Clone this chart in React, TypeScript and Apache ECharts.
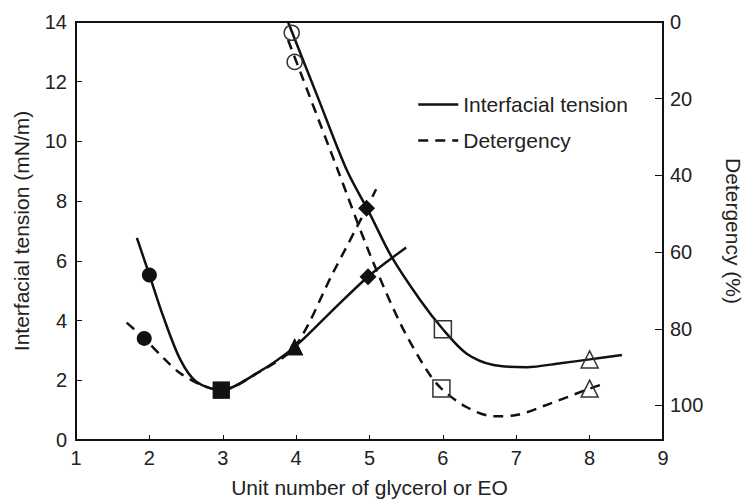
import React, { useEffect, useRef } from 'react';
import * as echarts from 'echarts';

// ---- data ----
const xTicks = [1, 2, 3, 4, 5, 6, 7, 8, 9];
const leftTicks = [0, 2, 4, 6, 8, 10, 12, 14];
const rightTicks = [0, 20, 40, 60, 80, 100];

// glycerol series: interfacial tension curve (left axis)
const glyIftCurve: number[][] = [
  [1.83, 6.77], [2.0, 5.53], [2.19, 4.13], [2.42, 2.7], [2.64, 1.95], [2.98, 1.67],
  [3.46, 2.23], [3.98, 3.12], [4.5, 4.35], [4.98, 5.47], [5.5, 6.45],
];
// glycerol series: detergency curve (right axis, %)
const glyDetCurve: number[][] = [
  [1.69, 78.4], [1.93, 82.5], [2.2, 87.8], [2.42, 91.6], [2.7, 94.6], [2.98, 96.0],
  [3.46, 91.7], [3.98, 84.7], [4.5, 65.5], [4.96, 48.6], [5.09, 43.6],
];
// EO series: interfacial tension curve (left axis)
const eoIftCurve: number[][] = [
  [3.89, 14.0], [4.3, 11.45], [4.69, 9.04], [5.0, 7.6], [5.3, 6.14], [5.69, 4.69],
  [6.0, 3.71], [6.32, 2.9], [6.69, 2.51], [7.14, 2.44], [7.6, 2.57], [8.0, 2.7], [8.44, 2.85],
];
// EO series: detergency curve (right axis, %)
const eoDetCurve: number[][] = [
  [3.89, 4.7], [4.55, 37.7], [5.0, 60.3], [5.42, 78.6], [5.78, 90.8], [5.98, 95.6],
  [6.32, 100.4], [6.69, 102.8], [7.0, 102.5], [7.46, 99.5], [8.0, 95.6], [8.14, 94.7],
];

// measured points
const glyIftPoints: number[][] = [[2.0, 5.53], [2.98, 1.67], [3.98, 3.12], [4.98, 5.47]];
const glyDetPoints: number[][] = [[1.93, 82.5], [2.98, 96.0], [3.98, 84.7], [4.96, 48.6]];
const eoIftPoints: number[][] = [[3.94, 13.64], [6.0, 3.71], [8.0, 2.7]];
const eoDetPoints: number[][] = [[3.98, 10.4], [5.98, 95.6], [8.0, 95.6]];

const legendNames = ['Interfacial tension', 'Detergency'];
const xTitle = 'Unit number of glycerol or EO';
const leftTitle = 'Interfacial tension (mN/m)';
const rightTitle = 'Detergency (%)';

// ---- styles ----
const FONT = '"Liberation Sans", Arial, Helvetica, sans-serif';
const INK = '#111';
const TXT = '#222';
const glySymbols = ['circle', 'rect', 'triangle', 'diamond'];
const glySizes = [15, 17, 17, 17];
const eoSymbols = ['circle', 'rect', 'triangle'];
const eoSizes = [15, 17, 17];

export default function App() {
  const ref = useRef<HTMLDivElement>(null);
  useEffect(() => {
    const chart = echarts.init(ref.current!, null, { renderer: 'svg' });
    const solid = { color: INK, width: 2.5, type: 'solid' as const };
    const dashed = { color: INK, width: 2.5, type: [10, 7] as any };
    const filledMarkers = (data: number[][], yAxisIndex: number) => ({
      type: 'scatter',
      yAxisIndex,
      data,
      symbol: (_v: any, p: any) => glySymbols[p.dataIndex],
      symbolSize: (_v: any, p: any) => glySizes[p.dataIndex],
      itemStyle: { color: INK, opacity: 1 },
      z: 5,
    });
    const openMarkers = (data: number[][], yAxisIndex: number) => ({
      type: 'scatter',
      yAxisIndex,
      data,
      symbol: (_v: any, p: any) => eoSymbols[p.dataIndex],
      symbolSize: (_v: any, p: any) => eoSizes[p.dataIndex],
      itemStyle: { color: 'rgba(0,0,0,0)', borderColor: '#333', borderWidth: 1.5, opacity: 1 },
      z: 5,
    });
    chart.setOption({
      animation: false,
      backgroundColor: '#fff',
      textStyle: { fontFamily: FONT },
      grid: {
        left: 76, right: 82, top: 22, bottom: 59,
        containLabel: false, outerBoundsMode: 'none',
        show: true, borderColor: INK, borderWidth: 2, backgroundColor: 'transparent',
      },
      legend: {
        orient: 'vertical', left: 412, top: 89, itemWidth: 40, itemHeight: 14, itemGap: 15,
        data: legendNames, selectedMode: false,
        itemStyle: { opacity: 0 },
        lineStyle: { width: 2.5 },
        textStyle: { fontSize: 21, color: TXT, fontFamily: FONT },
      },
      xAxis: {
        type: 'value', min: 1, max: 9, interval: 1,
        name: xTitle, nameLocation: 'middle', nameGap: 37,
        nameTextStyle: { fontSize: 21, color: TXT, fontFamily: FONT },
        axisLine: { lineStyle: { color: INK, width: 2 } },
        axisTick: { inside: true, length: 5, lineStyle: { color: INK }, customValues: xTicks },
        axisLabel: { fontSize: 20, color: TXT, margin: 8, fontFamily: FONT, customValues: xTicks },
        splitLine: { show: false },
      },
      yAxis: [
        {
          type: 'value', min: 0, max: 14, interval: 2, position: 'left',
          name: leftTitle, nameLocation: 'middle', nameGap: 44,
          nameTextStyle: { fontSize: 21, color: TXT, fontFamily: FONT },
          axisLine: { show: true, lineStyle: { color: INK, width: 2 } },
          axisTick: { inside: true, length: 6, lineStyle: { color: INK }, customValues: leftTicks },
          axisLabel: { fontSize: 20, color: TXT, margin: 9, fontFamily: FONT, customValues: leftTicks },
          splitLine: { show: false },
        },
        {
          type: 'value', min: 0, max: 109, inverse: true, position: 'right',
          name: rightTitle, nameLocation: 'middle', nameGap: 60, nameRotate: -90,
          nameTextStyle: { fontSize: 21, color: TXT, fontFamily: FONT },
          axisLine: { show: true, lineStyle: { color: INK, width: 2 } },
          axisTick: { inside: true, length: 8, lineStyle: { color: INK }, customValues: rightTicks },
          axisLabel: { fontSize: 20, color: TXT, margin: 7, fontFamily: FONT, customValues: rightTicks },
          splitLine: { show: false },
        },
      ],
      series: [
        { type: 'line', name: legendNames[0], yAxisIndex: 0, data: glyIftCurve, smooth: 0.3, symbol: 'none', lineStyle: solid, itemStyle: { color: INK } },
        { type: 'line', name: legendNames[1], yAxisIndex: 1, data: glyDetCurve, smooth: 0.3, symbol: 'none', lineStyle: dashed, itemStyle: { color: INK } },
        { type: 'line', name: legendNames[0], yAxisIndex: 0, data: eoIftCurve, smooth: 0.3, symbol: 'none', lineStyle: solid, itemStyle: { color: INK } },
        { type: 'line', name: legendNames[1], yAxisIndex: 1, data: eoDetCurve, smooth: 0.3, symbol: 'none', lineStyle: dashed, itemStyle: { color: INK } },
        filledMarkers(glyIftPoints, 0),
        filledMarkers(glyDetPoints, 1),
        openMarkers(eoIftPoints, 0),
        openMarkers(eoDetPoints, 1),
      ],
    });
    return () => chart.dispose();
  }, []);
  return <div ref={ref} style={{ position: 'fixed', left: 0, top: 0, width: 745, height: 499 }} />;
}
